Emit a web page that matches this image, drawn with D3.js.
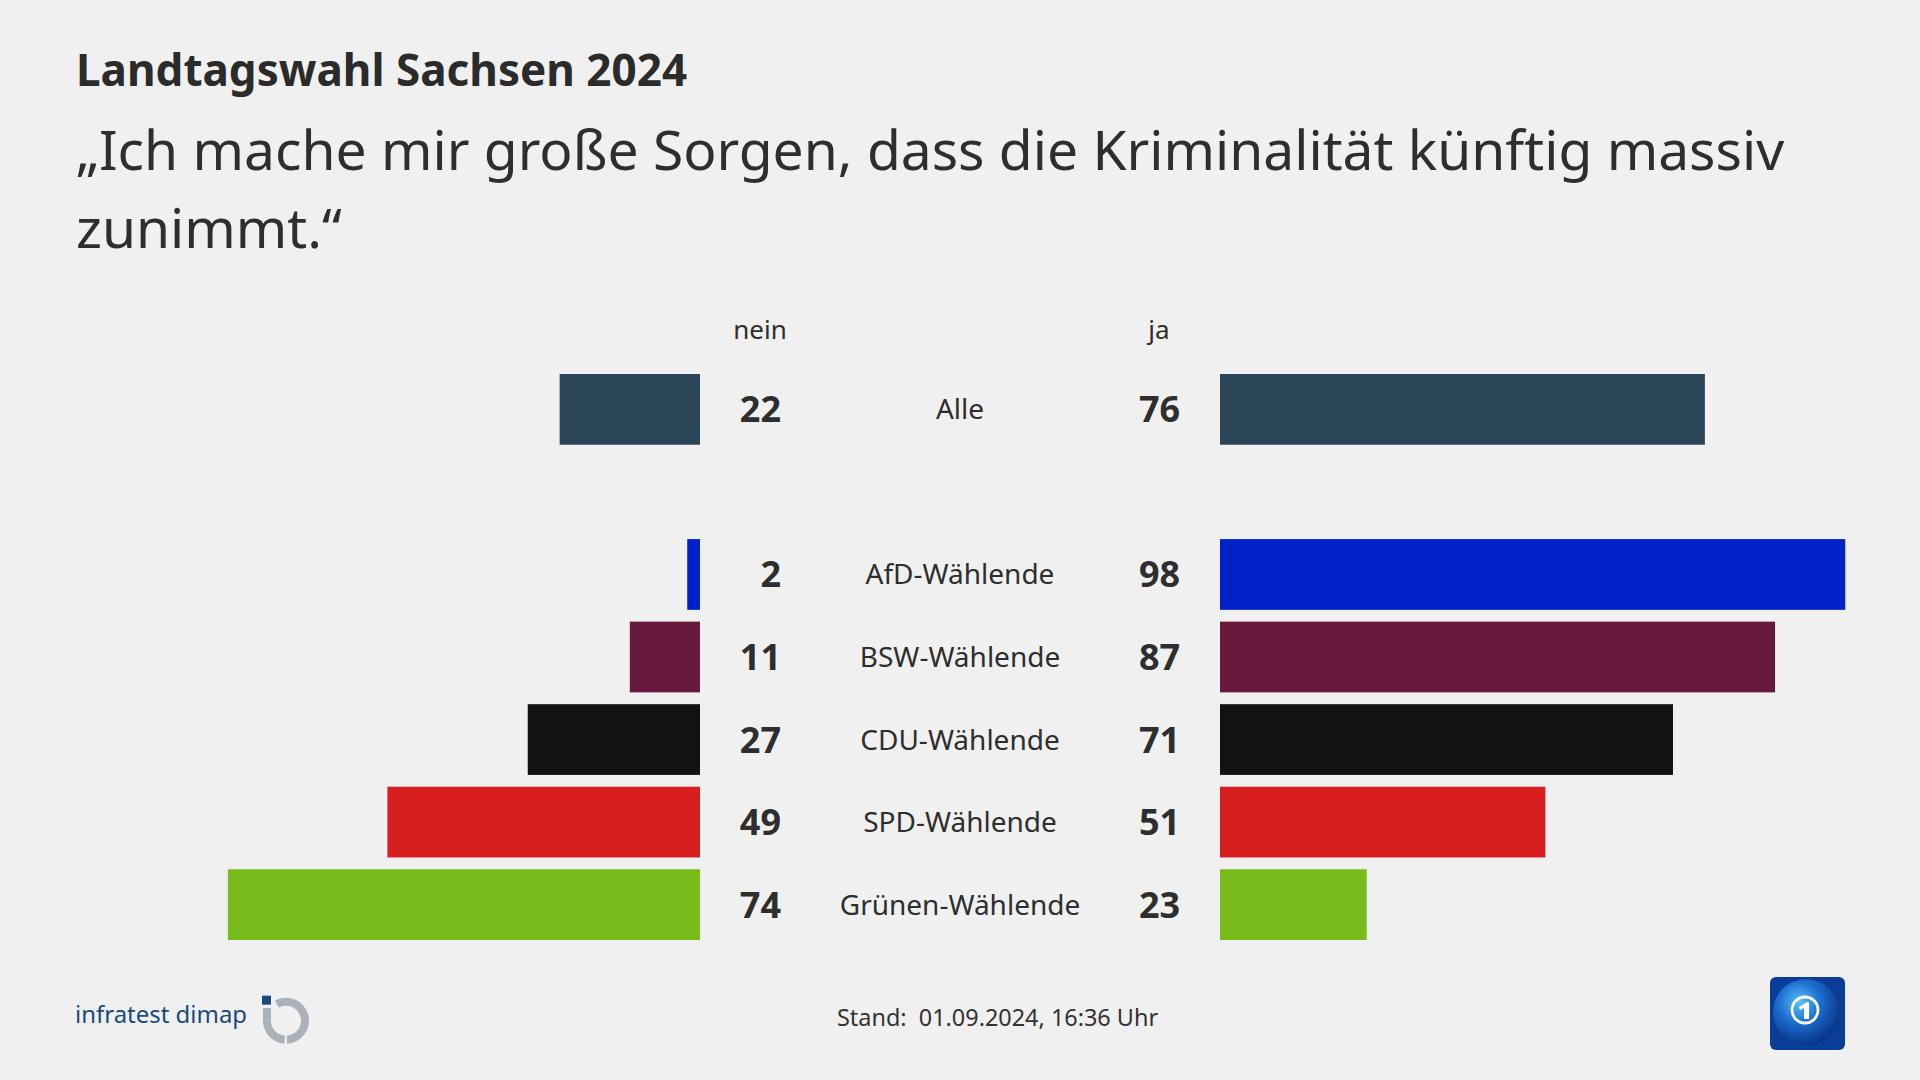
<!DOCTYPE html>
<html>
<head>
<meta charset="utf-8">
<script src="https://cdn.jsdelivr.net/npm/d3@7"></script>
<style>
  html, body { margin: 0; padding: 0; background: #f0f0f0; }
  svg { display: block; }
  text { font-family: "Noto Sans", "Open Sans", sans-serif; white-space: pre; }
</style>
</head>
<body>
<svg id="chart" width="1920" height="1080"></svg>
<script>
const title = "Landtagswahl Sachsen 2024";
const subtitleLines = ["„Ich mache mir große Sorgen, dass die Kriminalität künftig massiv", "zunimmt.“"];
const categories = ["Alle", "AfD-Wählende", "BSW-Wählende", "CDU-Wählende", "SPD-Wählende", "Grünen-Wählende"];
const neinValues = [22, 2, 11, 27, 49, 74];
const jaValues = [76, 98, 87, 71, 51, 23];
const barColors = ["#2a4557", "#0022c8", "#681a3e", "#121212", "#d71f1f", "#78bc1c"];
const headers = ["nein", "ja"];
const footerText = "Stand:  01.09.2024, 16:36 Uhr";
const sourceText = "infratest dimap";

const textColor = "#2e2e2e";
const svg = d3.select("#chart");
svg.append("rect").attr("width", 1920).attr("height", 1080).attr("fill", "#f0f0f0");

function fitText(sel, targetWidth) {
  const node = sel.node();
  let fs = parseFloat(sel.attr("font-size"));
  for (let i = 0; i < 4; i++) {
    const w = node.getComputedTextLength();
    if (w > 0) fs = fs * targetWidth / w;
    sel.attr("font-size", fs);
  }
}

// Title
const t = svg.append("text").attr("x", 76).attr("y", 86)
  .attr("font-size", 38).attr("font-weight", 700).attr("fill", "#2b2b2b").text(title);
fitText(t, 611);

// Subtitle
const s1 = svg.append("text").attr("x", 76).attr("y", 170)
  .attr("font-size", 54).attr("fill", textColor).text(subtitleLines[0]);
fitText(s1, 1708);
svg.append("text").attr("x", 76).attr("y", 248)
  .attr("font-size", s1.attr("font-size")).attr("fill", textColor).text(subtitleLines[1]);

// Scales
const domain = [categories[0], "__gap__", ...categories.slice(1)];
const y = d3.scaleBand().domain(domain).range([374, 940]).paddingInner(0.143).paddingOuter(0);
const xRight = d3.scaleLinear().domain([0, 100]).range([1220, 1858]);
const xLeft = d3.scaleLinear().domain([0, 100]).range([700, 62]);

const rows = categories.map((c, i) => ({ cat: c, nein: neinValues[i], ja: jaValues[i], color: barColors[i] }));

const g = svg.append("g");

// Left bars (nein)
g.selectAll("rect.nein").data(rows).join("rect").attr("class", "nein")
  .attr("x", d => xLeft(d.nein)).attr("y", d => y(d.cat))
  .attr("width", d => xLeft(0) - xLeft(d.nein)).attr("height", y.bandwidth())
  .attr("fill", d => d.color);

// Right bars (ja)
g.selectAll("rect.ja").data(rows).join("rect").attr("class", "ja")
  .attr("x", xRight(0)).attr("y", d => y(d.cat))
  .attr("width", d => xRight(d.ja) - xRight(0)).attr("height", y.bandwidth())
  .attr("fill", d => d.color);

// Values
g.selectAll("text.nv").data(rows).join("text").attr("class", "nv")
  .attr("x", 781).attr("y", d => y(d.cat) + y.bandwidth() / 2 + 13)
  .attr("text-anchor", "end").attr("font-size", 36).attr("font-weight", 700).attr("fill", textColor)
  .text(d => d.nein);
g.selectAll("text.jv").data(rows).join("text").attr("class", "jv")
  .attr("x", 1139).attr("y", d => y(d.cat) + y.bandwidth() / 2 + 13)
  .attr("text-anchor", "start").attr("font-size", 36).attr("font-weight", 700).attr("fill", textColor)
  .text(d => d.ja);

// Category labels
g.selectAll("text.cat").data(rows).join("text").attr("class", "cat")
  .attr("x", 960).attr("y", d => y(d.cat) + y.bandwidth() / 2 + 10)
  .attr("text-anchor", "middle").attr("font-size", 28).attr("fill", textColor)
  .text(d => d.cat);

// Headers
svg.append("text").attr("x", 760).attr("y", 339).attr("text-anchor", "middle")
  .attr("font-size", 26).attr("fill", textColor).text(headers[0]);
svg.append("text").attr("x", 1159).attr("y", 339).attr("text-anchor", "middle")
  .attr("font-size", 26).attr("fill", textColor).text(headers[1]);

// Footer
const f = svg.append("text").attr("x", 837).attr("y", 1026)
  .attr("font-size", 24).attr("fill", "#333").text(footerText);
fitText(f, 321);

// infratest dimap logo
const src = svg.append("text").attr("x", 75).attr("y", 1023)
  .attr("font-size", 28).attr("fill", "#1b4a7c").text(sourceText);
fitText(src, 172);
const logo = svg.append("g").attr("transform", "translate(286,1020.7)");
const arc = d3.arc().innerRadius(15).outerRadius(23);
logo.append("path").attr("d", arc({ startAngle: -0.5, endAngle: Math.PI - 0.05 })).attr("fill", "#a9b1b9");
logo.append("path").attr("d", arc({ startAngle: Math.PI + 0.07, endAngle: Math.PI * 1.5 })).attr("fill", "#a9b1b9");
logo.append("rect").attr("x", -23).attr("y", -12.7).attr("width", 8).attr("height", 12.8).attr("fill", "#a9b1b9");
logo.append("rect").attr("x", -24).attr("y", -25).attr("width", 9).attr("height", 9).attr("fill", "#1b4a7c");

// ARD tagesschau logo
const defs = svg.append("defs");
const grad = defs.append("radialGradient").attr("id", "globe").attr("cx", "40%").attr("cy", "35%").attr("r", "70%");
grad.append("stop").attr("offset", "0%").attr("stop-color", "#5ec0f5");
grad.append("stop").attr("offset", "45%").attr("stop-color", "#1b6fd0");
grad.append("stop").attr("offset", "100%").attr("stop-color", "#082f80");
const ard = svg.append("g").attr("transform", "translate(1770,977)");
ard.append("rect").attr("width", 75).attr("height", 73).attr("rx", 6).attr("fill", "#0a3d98");
ard.append("circle").attr("cx", 36).attr("cy", 35).attr("r", 33).attr("fill", "url(#globe)");
ard.append("circle").attr("cx", 35).attr("cy", 33).attr("r", 13).attr("fill", "none").attr("stroke", "#fff").attr("stroke-width", 2.8);
ard.append("path").attr("d", "M29,30 L37,25 L39,25 L39,42 L34,42 L34,31 L30,33 Z").attr("fill", "#fff");
</script>
</body>
</html>
